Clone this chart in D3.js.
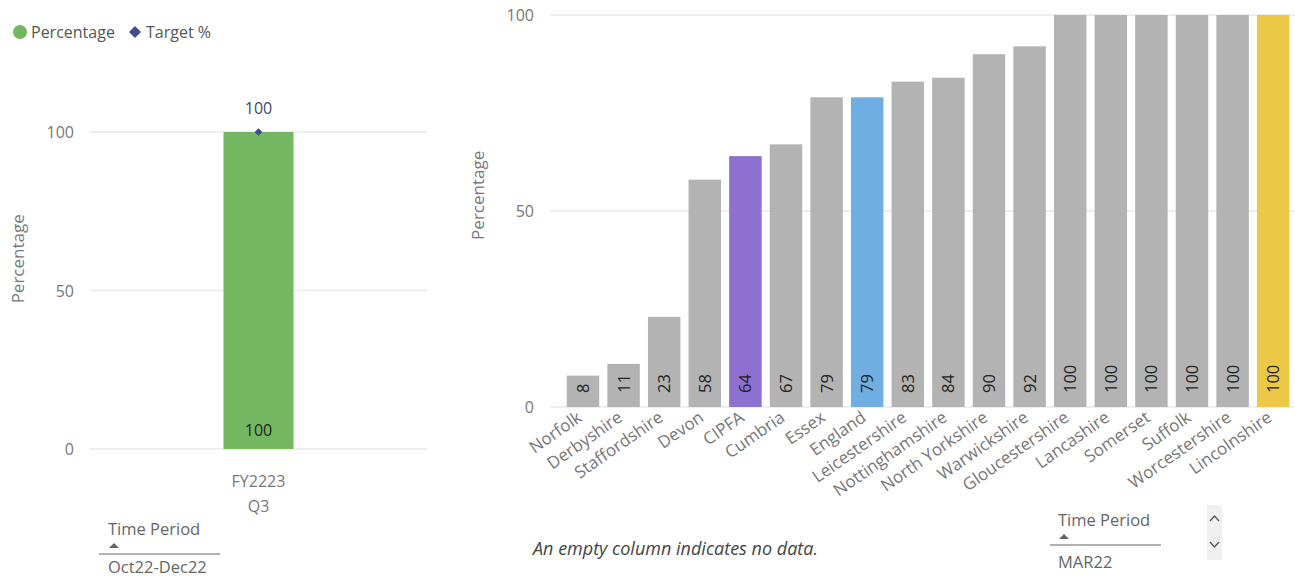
<!DOCTYPE html>
<html><head><meta charset="utf-8">
<script src="https://cdn.jsdelivr.net/npm/d3@7"></script>
<style>
body{margin:0;background:#fff;}
svg{display:block;font-family:"Segoe UI","Open Sans","Noto Sans",sans-serif;}
</style></head>
<body><svg id="c" width="1295" height="577"></svg>
<script>
// ---- data ----
const periods = ["FY2223 Q3"];
const periodPercent = [100];
const periodTarget = [100];
const leftTicks = [0, 50, 100];

const regions = ["Norfolk","Derbyshire","Staffordshire","Devon","CIPFA","Cumbria","Essex","England","Leicestershire","Nottinghamshire","North Yorkshire","Warwickshire","Gloucestershire","Lancashire","Somerset","Suffolk","Worcestershire","Lincolnshire"];
const regionPercent = [8,11,23,58,64,67,79,79,83,84,90,92,100,100,100,100,100,100];
const rightTicks = [0, 50, 100];
const legendLabels = ["Percentage","Target %"];

// ---- styles ----
const barGray = "#b3b3b3";
const highlight = {CIPFA:"#8e70d0", England:"#70ade0", Lincolnshire:"#ecc846"};
const green = "#73b761", navy = "#3f4d8a", axisText = "#777", grid = "#e9e9e9";

const svg = d3.select("#c");

// ---- legend ----
const lg = svg.append("g");
lg.append("circle").attr("cx",20).attr("cy",32).attr("r",7).attr("fill",green);
lg.append("text").attr("x",31).attr("y",38).attr("font-size",16).attr("fill","#555").text(legendLabels[0]);
lg.append("path").attr("d",d3.symbol(d3.symbolSquare,72)()).attr("transform","translate(135,32) rotate(45)").attr("fill",navy);
lg.append("text").attr("x",146).attr("y",38).attr("font-size",16).attr("fill","#555").text(legendLabels[1]);

// ---- left chart ----
const yL = d3.scaleLinear().domain([0,100]).range([449,132]);
const xL = d3.scaleBand().domain(periods).range([90,427]).paddingInner(0.2).paddingOuter(0.8);
const gL = svg.append("g");
gL.selectAll("line.g").data(leftTicks).join("line")
  .attr("x1",90).attr("x2",427).attr("y1",d=>yL(d)).attr("y2",d=>yL(d))
  .attr("stroke",grid).attr("stroke-width",1.5);
gL.selectAll("text.t").data(leftTicks).join("text")
  .attr("x",74).attr("y",d=>yL(d)+6).attr("text-anchor","end").attr("font-size",16).attr("fill",axisText).text(d=>d);
gL.append("text").attr("transform",`translate(24,${yL(60)}) rotate(-90)`).attr("text-anchor","middle")
  .attr("font-size",17).attr("fill",axisText).text("Percentage");
const bw = 70;
gL.selectAll("rect").data(periods).join("rect")
  .attr("x",(d)=>xL(d)+xL.bandwidth()/2-bw/2).attr("width",bw)
  .attr("y",(d,i)=>yL(periodPercent[i])).attr("height",(d,i)=>yL(0)-yL(periodPercent[i]))
  .attr("fill",green);
gL.selectAll("text.in").data(periods).join("text")
  .attr("x",d=>xL(d)+xL.bandwidth()/2).attr("y",yL(0)-13).attr("text-anchor","middle")
  .attr("font-size",16).attr("fill","#222").text((d,i)=>periodPercent[i]);
gL.selectAll("path.tg").data(periods).join("path")
  .attr("d",d3.symbol(d3.symbolSquare,30)())
  .attr("transform",(d,i)=>`translate(${xL(d)+xL.bandwidth()/2},${yL(periodTarget[i])}) rotate(45)`)
  .attr("fill",navy);
gL.selectAll("text.tv").data(periods).join("text")
  .attr("x",d=>xL(d)+xL.bandwidth()/2).attr("y",(d,i)=>yL(periodTarget[i])-18).attr("text-anchor","middle")
  .attr("font-size",16).attr("fill","#3e4a66").text((d,i)=>periodTarget[i]);
periods.forEach(p=>{
  const parts = p.split(" ");
  parts.forEach((s,j)=>{
    gL.append("text").attr("x",xL(p)+xL.bandwidth()/2).attr("y",487+j*25).attr("text-anchor","middle")
      .attr("font-size",16).attr("fill",axisText).text(s);
  });
});
// left slicer
gL.append("text").attr("x",108).attr("y",535).attr("font-size",16.5).attr("fill","#666").text("Time Period");
gL.append("path").attr("d","M109,548 L114,543 L119,548 Z").attr("fill","#666");
gL.append("line").attr("x1",99).attr("x2",220).attr("y1",554).attr("y2",554).attr("stroke","#999").attr("stroke-width",1.5);
gL.append("text").attr("x",108).attr("y",573).attr("font-size",16.5).attr("fill","#666").text("Oct22-Dec22");

// ---- right chart ----
const yR = d3.scaleLinear().domain([0,100]).range([407,15]);
const xR = d3.scaleBand().domain(regions).range([562.7,1293.5]).paddingInner(0.2).paddingOuter(0.1);
const gR = svg.append("g");
gR.selectAll("line.g").data(rightTicks).join("line")
  .attr("x1",550).attr("x2",1295).attr("y1",d=>yR(d)).attr("y2",d=>yR(d))
  .attr("stroke",grid).attr("stroke-width",1.5);
gR.selectAll("text.t").data(rightTicks).join("text")
  .attr("x",534).attr("y",d=>yR(d)+6).attr("text-anchor","end").attr("font-size",16).attr("fill",axisText).text(d=>d);
gR.append("text").attr("transform",`translate(484,${yR(54)}) rotate(-90)`).attr("text-anchor","middle")
  .attr("font-size",17).attr("fill",axisText).text("Percentage");
gR.selectAll("rect").data(regions).join("rect")
  .attr("x",d=>xR(d)).attr("width",xR.bandwidth())
  .attr("y",(d,i)=>yR(regionPercent[i])).attr("height",(d,i)=>yR(0)-yR(regionPercent[i]))
  .attr("fill",d=>highlight[d]||barGray);
gR.selectAll("text.v").data(regions).join("text")
  .attr("transform",d=>`translate(${xR(d)+xR.bandwidth()/2+6},${yR(0)-14}) rotate(-90)`)
  .attr("font-size",16.5).attr("fill","#222").text((d,i)=>regionPercent[i]);
gR.selectAll("text.x").data(regions).join("text")
  .attr("transform",d=>`translate(${xR(d)+xR.bandwidth()/2},${yR(0)+13}) rotate(-35)`)
  .attr("text-anchor","end").attr("font-size",17).attr("fill",axisText).text(d=>d);

svg.append("text").attr("x",533).attr("y",555).attr("font-size",18).attr("font-style","italic").attr("fill","#444")
  .text("An empty column indicates no data.");
// right slicer
svg.append("text").attr("x",1058).attr("y",526).attr("font-size",16.5).attr("fill","#666").text("Time Period");
svg.append("path").attr("d","M1059,539 L1064,534 L1069,539 Z").attr("fill","#666");
svg.append("line").attr("x1",1050).attr("x2",1161).attr("y1",545).attr("y2",545).attr("stroke","#999").attr("stroke-width",1.5);
svg.append("text").attr("x",1058).attr("y",568).attr("font-size",16.5).attr("fill","#666").text("MAR22");
svg.append("rect").attr("x",1207).attr("y",505).attr("width",15).attr("height",55).attr("fill","#f0f0f0");
svg.append("path").attr("d","M1210,521 L1214.5,516 L1219,521").attr("fill","none").attr("stroke","#555").attr("stroke-width",1.3);
svg.append("path").attr("d","M1210,542 L1214.5,547 L1219,542").attr("fill","none").attr("stroke","#555").attr("stroke-width",1.3);
</script></body></html>
